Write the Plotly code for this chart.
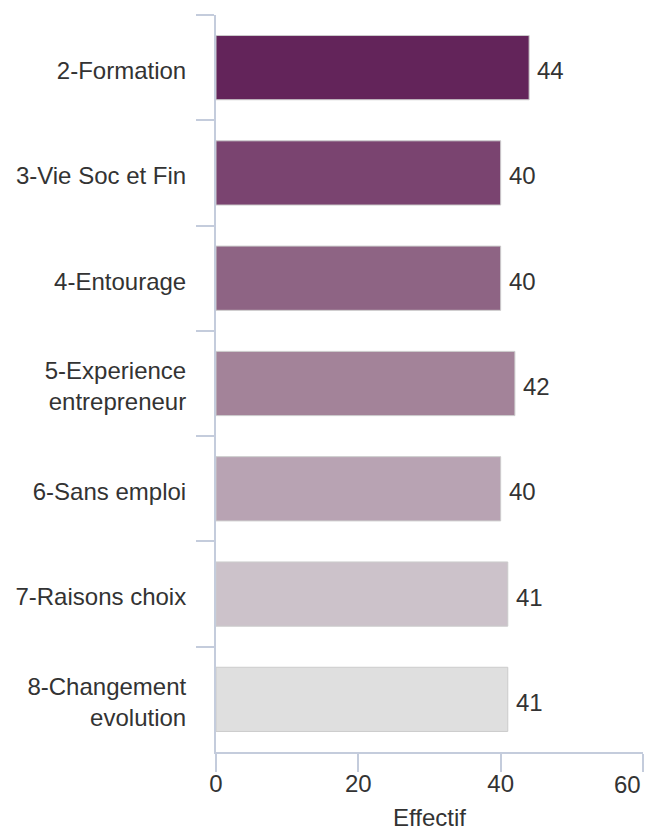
import plotly.graph_objects as go

categories = ["2-Formation", "3-Vie Soc et Fin", "4-Entourage",
              "5-Experience<br>entrepreneur", "6-Sans emploi",
              "7-Raisons choix", "8-Changement<br>evolution"]
values = [44, 40, 40, 42, 40, 41, 41]
colors = ["#63245A", "#7A4470", "#8E6484", "#A38399", "#B8A3B3", "#CCC2CA", "#DFDFDF"]
x_ticks = [0, 20, 40, 60]
x_ticklabels = ["0", "20", "40", ""]

axis_color = "#C4CCDC"
txt = "#333333"
fam = "Liberation Sans, Arial, sans-serif"
fs = 24

fig = go.Figure(go.Bar(
    x=values, y=categories, orientation="h",
    marker=dict(color=colors, line=dict(color="#CCCCCC", width=1)),
    hoverinfo="x+y",
))

# value labels right of the bars
for v, c in zip(values, categories):
    fig.add_annotation(x=v, y=c, text=str(v), showarrow=False, xanchor="left",
                       xshift=6, yshift=-3, font=dict(family=fam, size=fs, color=txt))

# last tick label shifted inside the chart (as in the reference)
fig.add_annotation(x=x_ticks[-1], y=0, yref="paper", text=str(x_ticks[-1]), showarrow=False,
                   xanchor="right", yanchor="top", yshift=-17,
                   font=dict(family=fam, size=fs, color=txt))

fig.update_layout(
    width=646, height=831,
    margin=dict(l=216, r=3, t=15, b=79),
    plot_bgcolor="white", paper_bgcolor="white",
    bargap=0.39, showlegend=False, font=dict(family=fam, size=fs, color=txt),
)
fig.update_xaxes(
    range=[0, 60], tickvals=x_ticks, ticktext=x_ticklabels,
    showgrid=False, zeroline=False, automargin=False,
    showline=True, linecolor=axis_color, linewidth=2,
    ticks="outside", ticklen=18, tickwidth=2, tickcolor=axis_color,
    title=dict(text="Effectif", font=dict(family=fam, size=fs, color=txt), standoff=16),
    tickfont=dict(family=fam, size=fs, color=txt), ticklabelstandoff=-9,
)
fig.update_yaxes(
    categoryorder="array", categoryarray=categories, autorange="reversed",
    showgrid=False, zeroline=False, automargin=False,
    showline=True, linecolor=axis_color, linewidth=2,
    ticks="outside", tickson="boundaries", ticklen=18, tickwidth=2, tickcolor=axis_color,
    tickfont=dict(family=fam, size=fs, color=txt), ticklabelstandoff=23, ticklabelshift=-3,
)

fig.write_html("out.html", config={"displayModeBar": False},
               post_script="document.body.style.margin='0';document.body.style.padding='0';"
                           "document.body.style.overflow='hidden';")
